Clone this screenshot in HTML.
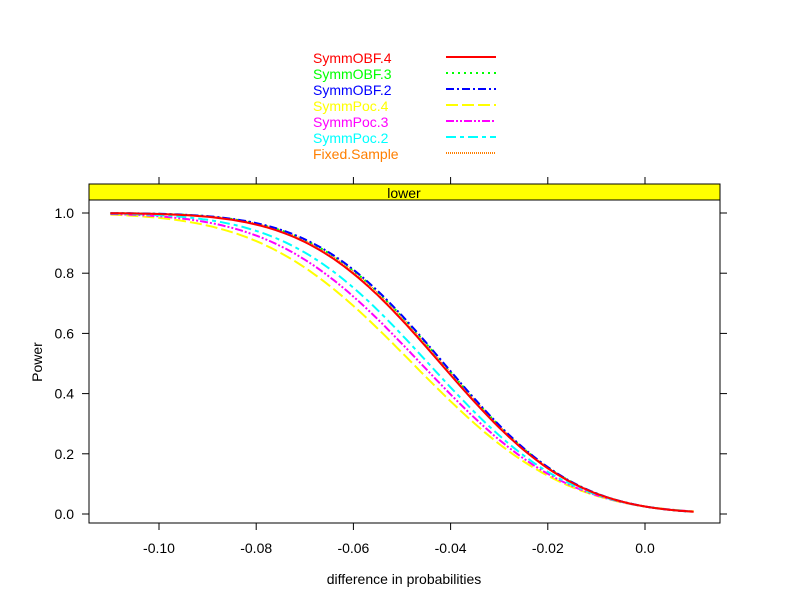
<!DOCTYPE html>
<html><head><style>
body{margin:0;background:#fff;}
svg text{font-family:"Liberation Sans",Arial,sans-serif;}
</style></head><body>
<svg id="s" width="792" height="611" xmlns="http://www.w3.org/2000/svg">
<rect width="792" height="611" fill="#fff"/>
<g font-size="14">
<text x="313" y="63" fill="#ff0000">SymmOBF.4</text>
<text x="313" y="79" fill="#00ff00">SymmOBF.3</text>
<text x="313" y="95" fill="#0000ff">SymmOBF.2</text>
<text x="313" y="111" fill="#ffff00">SymmPoc.4</text>
<text x="313" y="127" fill="#ff00ff">SymmPoc.3</text>
<text x="313" y="143" fill="#00ffff">SymmPoc.2</text>
<text x="313" y="159" fill="#ff7f00">Fixed.Sample</text>
</g>
<g stroke-width="2" fill="none">
<line x1="446" x2="496" y1="57" y2="57" stroke="#ff0000"/>
<line x1="446" x2="496" y1="73" y2="73" stroke="#00ff00" stroke-dasharray="2,4"/>
<line x1="446" x2="496" y1="89" y2="89" stroke="#0000ff" stroke-dasharray="8,3,2,3"/>
<line x1="446" x2="496" y1="105" y2="105" stroke="#ffff00" stroke-dasharray="12,4"/>
<line x1="446" x2="496" y1="121" y2="121" stroke="#ff00ff" stroke-dasharray="8,2,2,2,2,2"/>
<line x1="446" x2="496" y1="137" y2="137" stroke="#00ffff" stroke-dasharray="10,4,4,4"/>
<line x1="446" x2="496" y1="153" y2="153" stroke="#ff7f00" stroke-dasharray="1,1"/>
</g>
<rect x="89" y="184" width="631" height="16" fill="#ffff00" stroke="#000"/>
<text x="404" y="198" font-size="14" text-anchor="middle">lower</text>
<rect x="89" y="200" width="631" height="323" fill="none" stroke="#000"/>
<g id="ticks" stroke="#000" fill="none"></g>
<g id="lab" font-size="14"></g>
<g id="curves" fill="none" stroke-width="2"></g>
<text x="404" y="584" font-size="14" text-anchor="middle">difference in probabilities</text>
<text x="42" y="362" font-size="14" text-anchor="middle" transform="rotate(-90 42 362)">Power</text>
</svg>
<script>
var NS="http://www.w3.org/2000/svg";
function el(t,a,p){var e=document.createElementNS(NS,t);for(var k in a)e.setAttribute(k,a[k]);p.appendChild(e);return e;}
function X(v){return 645+v/0.02*97.2;}
function Y(p){return 514-p*301;}
var tk=document.getElementById('ticks'),lb=document.getElementById('lab');
[-0.10,-0.08,-0.06,-0.04,-0.02,0].forEach(function(v){var x=X(v);
el('line',{x1:x,x2:x,y1:523,y2:530},tk);el('line',{x1:x,x2:x,y1:184,y2:177},tk);
var t=el('text',{x:x,y:553,'text-anchor':'middle'},lb);t.textContent=v==0?"0.0":v.toFixed(2);});
[0,0.2,0.4,0.6,0.8,1].forEach(function(v){var y=Y(v);
el('line',{x1:89,x2:82,y1:y,y2:y},tk);el('line',{x1:720,x2:727,y1:y,y2:y},tk);
var t=el('text',{x:74,y:y+5,'text-anchor':'end'},lb);t.textContent=v.toFixed(1);});
function Phi(z){var t=1/(1+0.2316419*Math.abs(z));var d=0.3989423*Math.exp(-z*z/2);
var p=d*t*(0.3193815+t*(-0.3565638+t*(1.781478+t*(-1.821256+t*1.330274))));return z>0?1-p:p;}
var cs=document.getElementById('curves');
var S=[["#ffff00",41,"12,4"],["#ff00ff",42.5,"8,2,2,2,2,2"],["#00ffff",44,"10,4,4,4"],
["#ff7f00",47,"1,1"],["#00ff00",47.2,"2,4"],["#0000ff",47.4,"8,3,2,3"],["#ff0000",46.6,""]];
S.forEach(function(s){var d="";for(var i=0;i<=120;i++){var x=-0.11+i*0.001;var p=Phi(-1.96-s[1]*x);
d+=(i?"L":"M")+X(x).toFixed(1)+","+Y(p).toFixed(1);}
var a={d:d,stroke:s[0]};if(s[2])a['stroke-dasharray']=s[2];el('path',a,cs);});
</script>
</body></html>
